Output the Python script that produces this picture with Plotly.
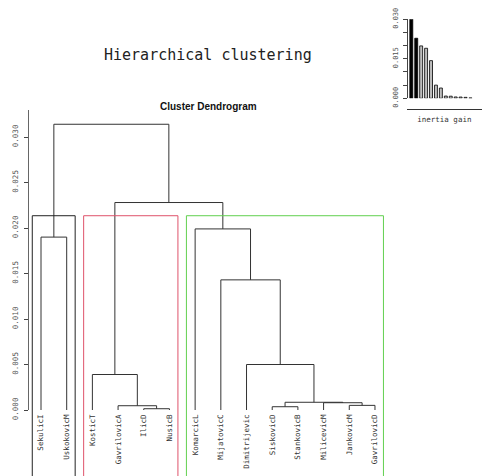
import plotly.graph_objects as go

# ---------------- data ----------------
labels = ["SekulicI", "UskokovicM", "KosticT", "GavrilovicA", "IlicD", "NusicB",
          "KomarcicL", "MijatovicC", "Dimitrijevic", "SiskovicD", "StankovicB",
          "MilicevicM", "JankovicM", "GavrilovicD"]
# hclust-style merge table: negative = leaf (1-based, display order), positive = earlier step
merge_left = [-5, -10, -4, -13, -12, 2, -3, -9, -8, -1, -7, 7, 10]
merge_right = [-6, -11, 1, -14, 4, 5, 3, 6, 8, -2, 9, 11, 12]
merge_height = [0.00014, 0.00036, 0.00047, 0.00051, 0.00080, 0.00085, 0.0039,
                 0.0050, 0.0143, 0.0190, 0.0199, 0.0228, 0.0314]
n_clusters = 3
y_ticks = [0.0, 0.005, 0.010, 0.015, 0.020, 0.025, 0.030]
inset_ticks = [0.0, 0.005, 0.010, 0.015, 0.020, 0.025, 0.030]
inset_ticktext = ["0.000", "", "", "0.015", "", "", "0.030"]
inertia_gain = sorted(merge_height, reverse=True)

# ---------------- layout constants ----------------
W, H = 482, 476
LEAF0_PX, LEAF_STEP_PX = 41.0, 25.69
ZERO_PX, PX_PER_UNIT = 410.0, 9100.0
AXIS_TOP_PX = 110.0
MONO = "DejaVu Sans Mono"
rect_colors = ["#222222", "#DF536B", "#61D04F"]

x_range = [1 - LEAF0_PX / LEAF_STEP_PX, 1 + (W - LEAF0_PX) / LEAF_STEP_PX]
y_range = [-(H - ZERO_PX) / PX_PER_UNIT, ZERO_PX / PX_PER_UNIT]

# ---------------- dendrogram geometry ----------------
node_x, node_h = {}, {}


def pos(ref):
    if ref < 0:
        return float(-ref), 0.0
    return node_x[ref], node_h[ref]


xs, ys = [], []
for step, (a, b, h) in enumerate(zip(merge_left, merge_right, merge_height), start=1):
    xa, ha = pos(a)
    xb, hb = pos(b)
    xs += [xa, xa, xb, xb, None]
    ys += [ha, h, h, hb, None]
    node_x[step] = (xa + xb) / 2
    node_h[step] = h


def leaves(ref):
    if ref < 0:
        return [-ref]
    return leaves(merge_left[ref - 1]) + leaves(merge_right[ref - 1])


groups = [len(merge_height)]
while len(groups) < n_clusters:
    top = max(groups, key=lambda s: merge_height[s - 1] if s > 0 else -1)
    groups.remove(top)
    groups += [merge_left[top - 1], merge_right[top - 1]]
groups = sorted((leaves(g) for g in groups), key=min)
rect_top = (inertia_gain[n_clusters - 2] + inertia_gain[n_clusters - 1]) / 2

fig = go.Figure()
fig.add_trace(go.Scatter(x=xs, y=ys, mode="lines", line=dict(color="#333333", width=1),
                         hoverinfo="skip", showlegend=False, xaxis="x", yaxis="y"))
# dummy trace for the visible y axis
fig.add_trace(go.Scatter(x=[1], y=[0], mode="markers", marker=dict(opacity=0),
                         hoverinfo="skip", showlegend=False, xaxis="x2", yaxis="y2"))

shapes = []
for g, col in zip(groups, rect_colors):
    shapes.append(dict(type="rect", xref="x", yref="y",
                       x0=min(g) - 0.34, x1=max(g) + 0.33,
                       y0=y_range[0] - 0.002, y1=rect_top,
                       line=dict(color=col, width=1), fillcolor="rgba(0,0,0,0)"))

# inset bar chart
bar_colors = ["black" if i < n_clusters - 1 else "#BEBEBE" for i in range(len(inertia_gain))]
fig.add_trace(go.Bar(x=list(range(1, len(inertia_gain) + 1)), y=inertia_gain,
                     marker=dict(color=bar_colors, line=dict(color="black", width=0.8)),
                     width=0.6, hoverinfo="skip", showlegend=False, xaxis="x3", yaxis="y3"))

IN_BAR0_PX, IN_STEP_PX = 411.3, 4.93
IN_LEFT_PX, IN_ZERO_PX, IN_TOP_PX, IN_XLINE_PX = 406.7, 98.3, 19.3, 109.3

fig.update_layout(
    width=W, height=H, margin=dict(l=0, r=0, t=0, b=0, autoexpand=False),
    paper_bgcolor="white", plot_bgcolor="rgba(0,0,0,0)",
    showlegend=False, shapes=shapes, bargap=0,
    xaxis=dict(domain=[0, 1], range=x_range, anchor="free", position=(H - ZERO_PX) / H,
               tickvals=list(range(1, len(labels) + 1)), ticktext=labels, tickangle=-90,
               tickfont=dict(family=MONO, size=7.5, color="#333333"),
               showgrid=False, zeroline=False, showline=False, ticks="",
               ticklabelstandoff=2, fixedrange=True, automargin=False),
    yaxis=dict(domain=[0, 1], range=y_range, visible=False, fixedrange=True, automargin=False),
    xaxis2=dict(domain=[0, 1], range=x_range, visible=False, anchor="y2", fixedrange=True,
                automargin=False),
    yaxis2=dict(domain=[(H - ZERO_PX) / H, (H - AXIS_TOP_PX) / H],
                range=[0, (ZERO_PX - AXIS_TOP_PX) / PX_PER_UNIT],
                anchor="free", position=27.5 / W, showline=True, linecolor="#666666",
                linewidth=1, ticks="outside", ticklen=4, tickcolor="#444444",
                tickvals=y_ticks, ticktext=[f"{v:.3f}" for v in y_ticks], tickangle=-90,
                tickfont=dict(family=MONO, size=7.5, color="#555555"),
                showgrid=False, zeroline=False, ticklabelstandoff=3, fixedrange=True,
                automargin=False),
    xaxis3=dict(domain=[IN_LEFT_PX / W, 1],
                range=[1 + (IN_LEFT_PX - IN_BAR0_PX) / IN_STEP_PX,
                       1 + (W - IN_BAR0_PX) / IN_STEP_PX],
                anchor="free", position=(H - IN_XLINE_PX) / H, showline=True,
                linecolor="#333333", linewidth=1, showticklabels=False, ticks="",
                showgrid=False, zeroline=False, fixedrange=True, automargin=False,
                title=dict(text="inertia gain", font=dict(family=MONO, size=7.5, color="#333333"),
                           standoff=7)),
    yaxis3=dict(domain=[(H - IN_ZERO_PX) / H, (H - IN_TOP_PX) / H], range=[0, 0.030],
                anchor="free", position=IN_LEFT_PX / W, showline=True, linecolor="#444444",
                linewidth=1, ticks="outside", ticklen=4, tickcolor="#444444",
                tickvals=inset_ticks, ticktext=inset_ticktext, tickangle=-90,
                tickfont=dict(family=MONO, size=7, color="#555555"),
                showgrid=False, zeroline=False, ticklabelstandoff=2, fixedrange=True,
                automargin=False),
    annotations=[
        dict(text="Hierarchical clustering", xref="paper", yref="paper",
             x=208 / W, y=1 - 55 / H, xanchor="center", yanchor="middle", showarrow=False,
             font=dict(family=MONO, size=15, color="#222222")),
        dict(text="Cluster Dendrogram", xref="paper", yref="paper",
             x=208 / W, y=1 - 107 / H, xanchor="center", yanchor="middle", showarrow=False,
             font=dict(family="Liberation Sans", size=10, color="#111111", weight="bold")),
    ],
)

fig.write_html("out.html", config={"displayModeBar": False, "staticPlot": True},
               post_script="document.body.style.margin='0';document.body.style.overflow='hidden';")
